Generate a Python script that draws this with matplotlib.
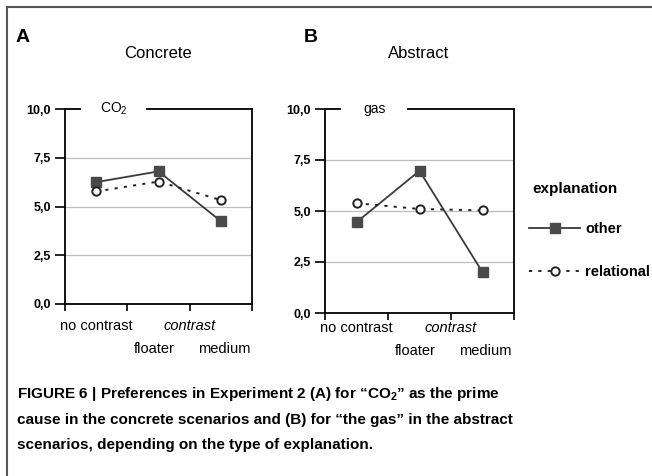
import matplotlib
matplotlib.use("Agg")
import matplotlib.pyplot as plt
from matplotlib.lines import Line2D
import numpy as np

plt.rcParams['font.family'] = ['Liberation Sans', 'DejaVu Sans']
plt.rcParams['mathtext.fontset'] = 'custom'
plt.rcParams['mathtext.rm'] = 'Liberation Sans'
plt.rcParams['mathtext.bf'] = 'Liberation Sans:bold'

# data
categories = ["no contrast", "floater", "medium"]
concrete_other = [6.25, 6.8, 4.25]
concrete_relational = [5.77, 6.28, 5.33]
abstract_other = [4.45, 6.97, 2.0]
abstract_relational = [5.38, 5.1, 5.03]
yticks = [0, 2.5, 5, 7.5, 10]

W, H = 652, 476
fig = plt.figure(figsize=(W / 100, H / 100), dpi=100)

def px(left, right, top, bottom):
    return [left / W, 1 - bottom / H, (right - left) / W, (bottom - top) / H]

def panel(rect, other, relational, label, row1, row2):
    ax = fig.add_axes(rect)
    x = np.arange(len(categories))
    for y in yticks[1:-1]:
        ax.axhline(y, color="#bdbdbd", lw=0.9, zorder=1)
    ax.plot(x, other, color="#3a3a3a", lw=1.3, marker="s", ms=6.5,
            mfc="#4a4a4a", mec="#4a4a4a", zorder=3)
    ax.plot(x, relational, color="#222222", lw=1.4, ls=(0, (1.6, 3.2)),
            marker="o", ms=6, mfc="white", mec="#222222", mew=1.4, zorder=3)
    ax.set_xlim(-0.5, 2.5)
    ax.set_ylim(0, 10)
    ax.set_yticks(yticks)
    ax.set_yticklabels([f"{v:.1f}".replace(".", ",") for v in yticks],
                       fontweight="bold", fontsize=9)
    ax.set_xticks([-0.5, 0.5, 1.5, 2.5])
    ax.set_xticklabels([])
    ax.tick_params(axis="y", length=7, width=1.2, pad=3)
    ax.tick_params(axis="x", length=5, width=1.2)
    for s in ["left", "bottom", "right"]:
        ax.spines[s].set_linewidth(1.3)
    ax.spines["top"].set_visible(False)
    # top border interrupted by the label
    ax.plot([0, 0.08], [1, 1], color="black", lw=1.3, transform=ax.transAxes, clip_on=False)
    ax.plot([0.44, 1], [1, 1], color="black", lw=1.3, transform=ax.transAxes, clip_on=False)
    ax.text(0.26, 1.0, label, transform=ax.transAxes, ha="center", va="center", fontsize=10)
    # category labels
    lab = dict(xycoords=("data", "axes fraction"), textcoords="offset pixels",
               ha="center", va="center", fontsize=10.5)
    ax.annotate(categories[0], (0, 0), (0, -row1), **lab)
    ax.annotate("contrast", (1.5, 0), (0, -row1), style="italic", **lab)
    ax.annotate(categories[1], (1, 0), (-4, -row2), **lab)
    ax.annotate(categories[2], (2, 0), (3, -row2), **lab)
    return ax

axA = panel(px(65, 252, 109, 304), concrete_other, concrete_relational,
            "CO$_2$", 22, 45)
axB = panel(px(325, 514, 109, 313), abstract_other, abstract_relational,
            "gas", 15, 38)

fig.text(16 / W, 1 - 37 / H, "A", fontsize=14, fontweight="bold", va="center")
fig.text(304 / W, 1 - 37 / H, "B", fontsize=14, fontweight="bold", va="center")
fig.text(158 / W, 1 - 53 / H, "Concrete", fontsize=12, ha="center", va="center")
fig.text(419 / W, 1 - 53 / H, "Abstract", fontsize=12, ha="center", va="center")

# legend
fig.text(532 / W, 1 - 189 / H, "explanation", fontsize=11, fontweight="bold", va="center")
handles = [Line2D([], [], color="#3a3a3a", lw=1.3, marker="s", ms=6.5,
                  mfc="#4a4a4a", mec="#4a4a4a"),
           Line2D([], [], color="#222222", lw=1.4, ls=(0, (1.6, 3.2)), marker="o",
                  ms=6, mfc="white", mec="#222222", mew=1.4)]
leg = fig.legend(handles, ["other", "relational"],
                 loc="upper left", bbox_to_anchor=(529 / W, 1 - 222 / H),
                 frameon=False, prop={"weight": "bold", "size": 10.5},
                 handlelength=3.5, handletextpad=0.35, labelspacing=2.0,
                 borderpad=0, borderaxespad=0)

# caption
cap = ("FIGURE 6 | Preferences in Experiment 2 (A) for \u201cCO$_\\mathbf{2}$\u201d as the prime\n"
       "cause in the concrete scenarios and (B) for \u201cthe gas\u201d in the abstract\n"
       "scenarios, depending on the type of explanation.")
fig.text(17 / W, 1 - 385 / H, cap, fontsize=11, fontweight="bold",
         va="top", ha="left", linespacing=1.95)

# page frame
fig.add_artist(Line2D([7 / W, 1], [1 - 7 / H, 1 - 7 / H], color="#555555", lw=1.5))
fig.add_artist(Line2D([7 / W, 7 / W], [1 - 7 / H, 0], color="#555555", lw=1.5))

fig.savefig("out.png", dpi=100)
